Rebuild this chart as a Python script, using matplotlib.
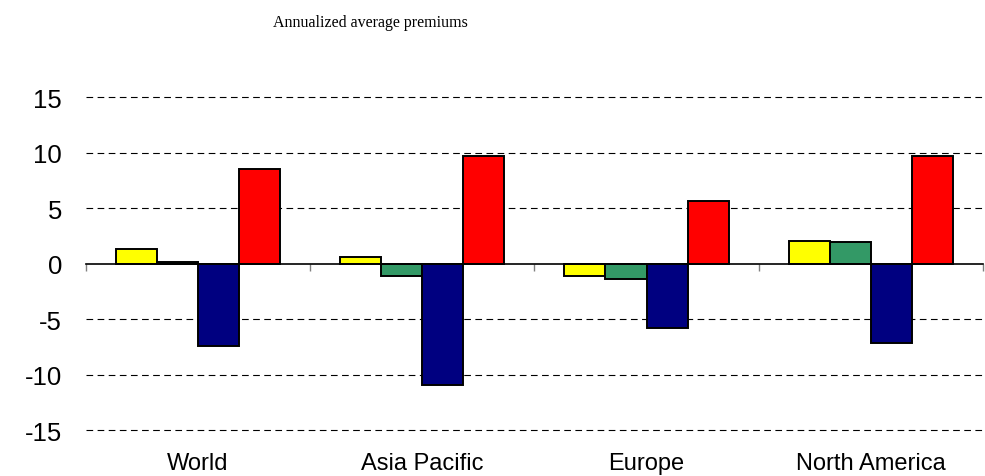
import matplotlib
matplotlib.use("Agg")
import matplotlib.pyplot as plt
import matplotlib.transforms as mtransforms
import numpy as np

plt.rcParams["axes.unicode_minus"] = False

# data
regions = ["World", "Asia Pacific", "Europe", "North America"]
series_a = [1.35, 0.55, -1.1, 2.05]     # yellow
series_b = [0.12, -1.1, -1.4, 1.9]      # green
series_c = [-7.4, -10.95, -5.8, -7.2]   # navy
series_d = [8.55, 9.65, 5.65, 9.65]     # red
colors = ["#FFFF00", "#339966", "#000080", "#FF0000"]
yticks = [-15, -10, -5, 0, 5, 10, 15]

fig = plt.figure(figsize=(9.85, 4.77), dpi=100)
ax = fig.add_axes([0.087, 0.0964, 0.911, 0.698])

x = np.arange(len(regions))
width = 0.183
all_series = [series_a, series_b, series_c, series_d]
for k, (vals, col) in enumerate(zip(all_series, colors)):
    ax.bar(x + (k - 1.5) * width, vals, width, color=col,
           edgecolor="black", linewidth=1.4, zorder=3)

ax.set_xlim(-0.5, len(regions) - 0.5)
ax.set_ylim(-15, 15)

# dashed gridlines, zero line solid
for y in yticks:
    if y != 0:
        ax.axhline(y, color="black", linestyle=(0, (6, 4)),
                   linewidth=0.8, zorder=1, clip_on=False)

for side in ["top", "right", "left"]:
    ax.spines[side].set_visible(False)
ax.spines["bottom"].set_position(("data", 0))
ax.spines["bottom"].set_linewidth(1.2)
ax.spines["bottom"].set_zorder(4)

ax.set_xticks(np.arange(-0.5, len(regions), 1.0))
ax.tick_params(axis="x", length=5, width=1.0, color="gray",
               labelbottom=False)
ax.set_yticks(yticks)
ax.tick_params(axis="y", length=0, pad=17, labelsize=18.5)
for lbl in ax.get_yticklabels():
    lbl.set_fontfamily("Liberation Sans")

trans = mtransforms.blended_transform_factory(ax.transData, ax.transAxes)
for i, name in enumerate(regions):
    ax.text(i, -0.098, name, transform=trans, ha="center", va="center",
            fontsize=17, family="Liberation Sans")

fig.text(0.376, 0.952, "Annualized average premiums", ha="center",
         va="center", fontsize=11.5, family="Liberation Serif")

fig.savefig("out.png", dpi=100)
